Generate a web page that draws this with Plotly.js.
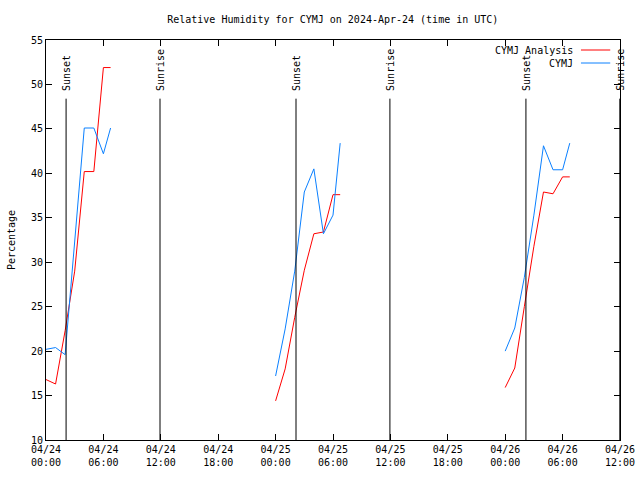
<!DOCTYPE html>
<html>
<head>
<meta charset="utf-8">
<script src="https://cdn.plot.ly/plotly-3.0.1.min.js"></script>
<style>html,body{margin:0;padding:0;background:#fff}#chart{width:640px;height:480px}</style>
</head>
<body>
<div id="chart"></div>
<script>
// Observation times (three morning windows, UTC); null separates windows
const times = [
  '2024-04-24 00:00','2024-04-24 01:00','2024-04-24 02:00','2024-04-24 03:00','2024-04-24 04:00','2024-04-24 05:00','2024-04-24 06:00','2024-04-24 06:45',
  '2024-04-24 09:00',
  '2024-04-25 00:00','2024-04-25 01:00','2024-04-25 02:00','2024-04-25 03:00','2024-04-25 04:00','2024-04-25 05:00','2024-04-25 06:00','2024-04-25 06:45',
  '2024-04-25 09:00',
  '2024-04-26 00:00','2024-04-26 01:00','2024-04-26 02:00','2024-04-26 03:00','2024-04-26 04:00','2024-04-26 05:00','2024-04-26 06:00','2024-04-26 06:45'
];
const analysisRH = [16.8,16.3,22.3,29.0,40.2,40.2,51.9,51.9, null,
                    14.4,18.0,23.8,29.1,33.2,33.4,37.6,37.6, null,
                    15.9,18.1,25.0,31.8,37.9,37.7,39.6,39.6];
const observedRH = [20.2,20.4,19.6,32.3,45.1,45.1,42.2,45.1, null,
                    17.2,22.5,29.0,37.9,40.5,33.2,35.3,43.4, null,
                    20.0,22.6,28.3,35.3,43.1,40.4,40.4,43.4];

const eventTimes  = ['2024-04-24 02:06','2024-04-24 11:55','2024-04-25 02:08','2024-04-25 11:57','2024-04-26 02:10','2024-04-26 11:59'];
const eventLabels = ['Sunset','Sunrise','Sunset','Sunrise','Sunset','Sunrise'];

const tickVals = ['2024-04-24 00:00','2024-04-24 06:00','2024-04-24 12:00','2024-04-24 18:00','2024-04-25 00:00','2024-04-25 06:00','2024-04-25 12:00','2024-04-25 18:00','2024-04-26 00:00','2024-04-26 06:00','2024-04-26 12:00'];
const tickText = ['04/24<br>00:00','04/24<br>06:00','04/24<br>12:00','04/24<br>18:00','04/25<br>00:00','04/25<br>06:00','04/25<br>12:00','04/25<br>18:00','04/26<br>00:00','04/26<br>06:00','04/26<br>12:00'];
const seriesNames = ['CYMJ Analysis','CYMJ'];
const seriesColors = ['#ff0000','#0a80ff'];

const mono = 'DejaVu Sans Mono, monospace';

const traces = [
  {x: times, y: analysisRH, type:'scatter', mode:'lines', name: seriesNames[0],
   line:{color:seriesColors[0], width:1}, connectgaps:false, showlegend:false},
  {x: times, y: observedRH, type:'scatter', mode:'lines', name: seriesNames[1],
   line:{color:seriesColors[1], width:1}, connectgaps:false, showlegend:false}
];

const shapes = [];
const annotations = [];
eventTimes.forEach((t,i)=>{
  shapes.push({type:'line', xref:'x', yref:'y', x0:t, x1:t, y0:10, y1:48.4,
               line:{color:'#000', width:1}});
  annotations.push({xref:'x', yref:'y', x:t, y:49.15, yanchor:'bottom', xanchor:'center',
                    text:eventLabels[i], textangle:-90, showarrow:false,
                    borderpad:0, font:{family:mono, size:10, color:'#000'}});
});
// legend (text left, line sample right)
seriesNames.forEach((n,i)=>{
  annotations.push({xref:'paper', yref:'paper', x:0.922, y:0.975 - i*0.0325, xanchor:'right', yanchor:'middle',
                    text:n, showarrow:false, font:{family:mono, size:10, color:'#000'}});
  shapes.push({type:'line', xref:'paper', yref:'paper', x0:0.932, x1:0.983,
               y0:0.975 - i*0.0325, y1:0.975 - i*0.0325, line:{color:seriesColors[i], width:1}});
});

const layout = {
  width:640, height:480,
  margin:{l:46, r:20, t:40, b:40},
  paper_bgcolor:'#fff', plot_bgcolor:'#fff',
  font:{family:mono, size:10, color:'#000'},
  title:{text:'Relative Humidity for CYMJ on 2024-Apr-24 (time in UTC)', x:0.52, xanchor:'center', y:0.96, yanchor:'middle',
         font:{family:mono, size:10, color:'#000'}},
  xaxis:{type:'date', range:['2024-04-24 00:00','2024-04-26 12:00'],
         tickmode:'array', tickvals:tickVals, ticktext:tickText,
         ticks:'inside', ticklen:6, tickcolor:'#000', mirror:'allticks',
         showline:true, linecolor:'#000', linewidth:1, showgrid:false, zeroline:false,
         tickfont:{family:mono, size:10, color:'#000'}},
  yaxis:{range:[10,55], tickmode:'linear', tick0:10, dtick:5,
         ticks:'inside', ticklen:6, tickcolor:'#000', mirror:'allticks',
         showline:true, linecolor:'#000', linewidth:1, showgrid:false, zeroline:false,
         tickfont:{family:mono, size:10, color:'#000'},
         title:{text:'Percentage', font:{family:mono, size:10, color:'#000'}, standoff:13}},
  shapes: shapes,
  annotations: annotations
};

Plotly.newPlot('chart', traces, layout, {staticPlot:true, displayModeBar:false});
</script>
</body>
</html>
